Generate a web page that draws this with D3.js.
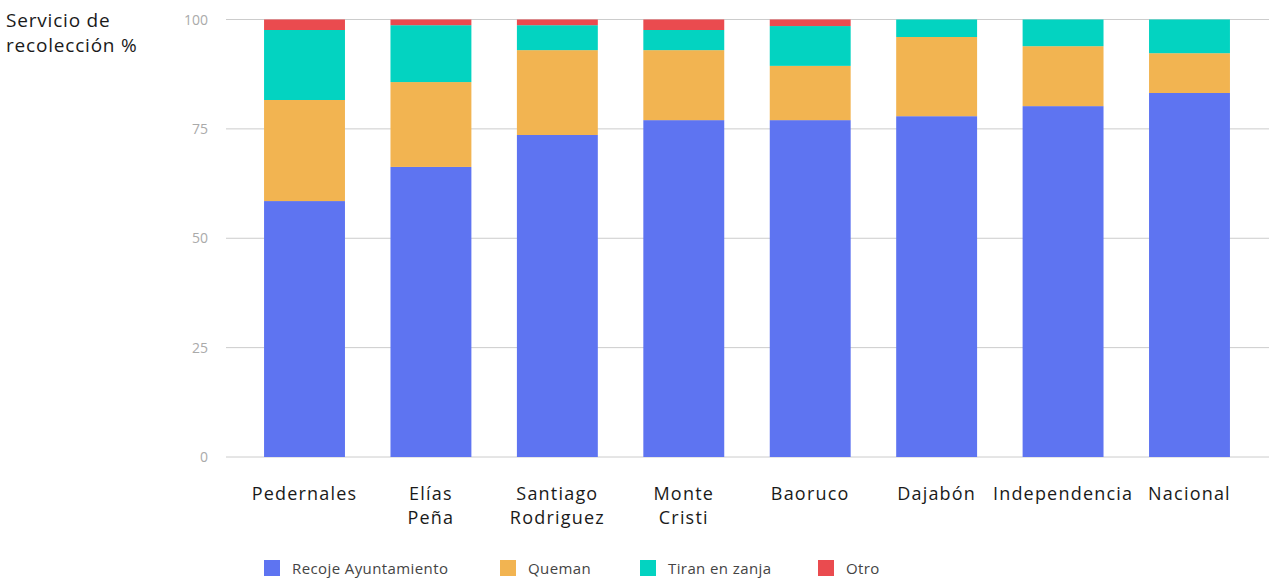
<!DOCTYPE html>
<html><head><meta charset="utf-8">
<script src="https://cdn.jsdelivr.net/npm/d3@7"></script>
<style>body{margin:0;background:#fff;}svg{display:block;font-family:"Open Sans",Lato,sans-serif;}</style>
</head><body>
<svg id="c" width="1269" height="581"></svg>
<script>
const categories = [["Pedernales"],["Elías","Peña"],["Santiago","Rodriguez"],["Monte","Cristi"],["Baoruco"],["Dajabón"],["Independencia"],["Nacional"]];
const seriesNames = ["Recoje Ayuntamiento","Queman","Tiran en zanja","Otro"];
const recoje = [58.5, 66.3, 73.6, 77.0, 77.0, 77.9, 80.2, 83.2];
const queman = [23.1, 19.4, 19.4, 16.0, 12.4, 18.1, 13.7, 9.1];
const tiran  = [16.0, 13.0, 5.7, 4.6, 9.1, 4.0, 6.1, 7.7];
const otro   = [2.4, 1.3, 1.3, 2.4, 1.5, 0, 0, 0];
const yTicks = [0, 25, 50, 75, 100];
const colors = ["#5e74f1","#f2b451","#03d3c1","#ea4b4f"];

const svg = d3.select("#c");
const keys = categories.map(c => c.join(" "));
const rows = keys.map((k,i) => ({key:k, "Recoje Ayuntamiento":recoje[i], "Queman":queman[i], "Tiran en zanja":tiran[i], "Otro":otro[i]}));
const stack = d3.stack().keys(seriesNames)(rows);

const x = d3.scaleBand().domain(keys).range([226,1268]).paddingInner(0.36).paddingOuter(0.301);
const y = d3.scaleLinear().domain([0,100]).range([457,19.5]);

// grid
svg.append("g").selectAll("line").data(yTicks).join("line")
  .attr("x1",226).attr("x2",1269).attr("y1",d=>y(d)).attr("y2",d=>y(d))
  .attr("stroke","#cccccc").attr("stroke-width",1);
svg.append("g").selectAll("text").data(yTicks).join("text")
  .attr("x",208).attr("y",d=>y(d)+5).attr("text-anchor","end")
  .attr("font-size",14).attr("fill","#aaaaaa").text(d=>d);

// bars
svg.append("g").selectAll("g").data(stack).join("g")
  .attr("fill",(d,i)=>colors[i])
  .selectAll("rect").data(d=>d).join("rect")
  .attr("x",d=>x(d.data.key)).attr("width",x.bandwidth())
  .attr("y",d=>y(d[1])).attr("height",d=>Math.max(0,y(d[0])-y(d[1])));

// category labels
const lab = svg.append("g").selectAll("text").data(categories).join("text")
  .attr("x",(d,i)=>x(keys[i])+x.bandwidth()/2).attr("y",500)
  .attr("text-anchor","middle").attr("font-size",18).attr("letter-spacing","1.2px").attr("fill","#1a1a1a");
lab.selectAll("tspan").data(d=>d).join("tspan")
  .attr("x",function(){return this.parentNode.getAttribute("x");})
  .attr("dy",(d,i)=>i===0?0:24).text(d=>d);

// title
svg.append("text").attr("x",6).attr("y",27).attr("font-size",19).attr("letter-spacing","0.8px").attr("fill","#1a1a1a")
  .selectAll("tspan").data(["Servicio de","recolección %"]).join("tspan")
  .attr("x",6).attr("dy",(d,i)=>i===0?0:25).text(d=>d);

// legend
const legX = [264,500,640,818];
const lg = svg.append("g").selectAll("g").data(seriesNames).join("g")
  .attr("transform",(d,i)=>`translate(${legX[i]},560)`);
lg.append("rect").attr("width",16).attr("height",16).attr("fill",(d,i)=>colors[i]);
lg.append("text").attr("x",28).attr("y",14).attr("font-size",15).attr("letter-spacing","0.4px").attr("fill","#444").text(d=>d);
</script>
</body></html>
